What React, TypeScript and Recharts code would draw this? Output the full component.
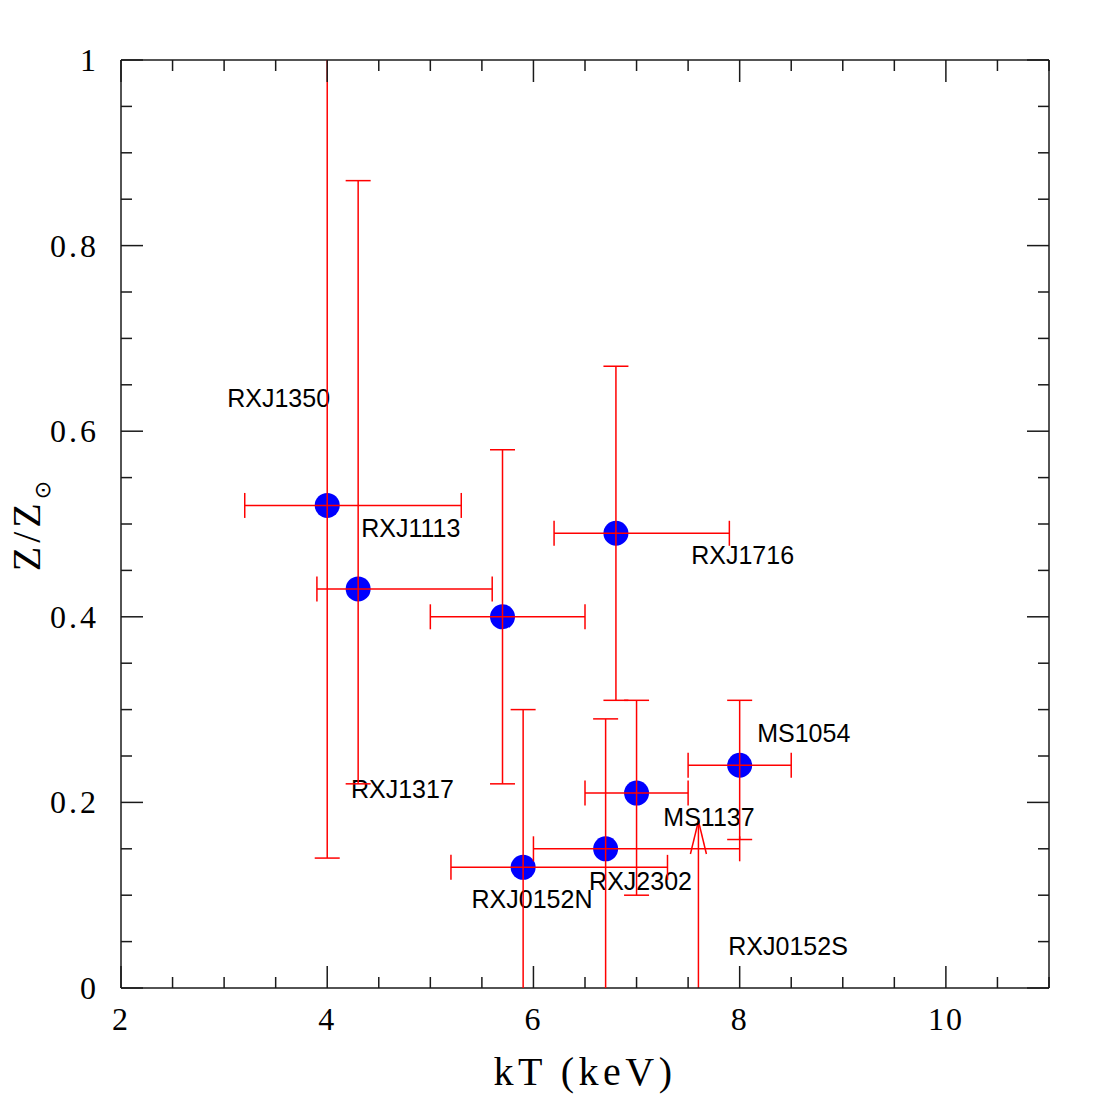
import React from 'react';
import * as R from 'recharts';
import { ScatterChart, Scatter, XAxis, YAxis, ErrorBar, Label, ReferenceLine } from 'recharts';

// cluster measurements: temperature (keV) and metallicity (solar units)
const clusters = ['RXJ1350', 'RXJ1317', 'RXJ1113', 'RXJ1716', 'MS1054', 'MS1137', 'RXJ2302', 'RXJ0152N'];
const kT = [4.0, 4.3, 5.7, 6.8, 8.0, 7.0, 6.7, 5.9];
const kTLow = [3.2, 3.9, 5.0, 6.2, 7.5, 6.5, 6.0, 5.2];
const kTHigh = [5.3, 5.6, 6.5, 7.9, 8.5, 7.5, 8.0, 7.3];
const Z = [0.52, 0.43, 0.4, 0.49, 0.24, 0.21, 0.15, 0.13];
const ZLow = [0.14, 0.22, 0.22, 0.31, 0.16, 0.1, -0.05, -0.05];
const ZHigh = [1.05, 0.87, 0.58, 0.67, 0.31, 0.31, 0.29, 0.3];

// upper limit (no detection)
const ulNames = ['RXJ0152S'];
const ulKT = [7.6];
const ulZ = [0.18];

// where the names are written, in data coordinates (left end of baseline)
const labelNames = ['RXJ1350', 'RXJ1113', 'RXJ1716', 'RXJ1317', 'MS1054', 'MS1137', 'RXJ2302', 'RXJ0152N', 'RXJ0152S'];
const labelKT = [3.03, 4.33, 7.53, 4.23, 8.17, 7.26, 6.54, 5.4, 7.89];
const labelZ = [0.626, 0.486, 0.457, 0.205, 0.265, 0.175, 0.106, 0.086, 0.036];

const xTicks = [2, 2.5, 3, 3.5, 4, 4.5, 5, 5.5, 6, 6.5, 7, 7.5, 8, 8.5, 9, 9.5, 10, 10.5, 11];
const xLabels = [2, 4, 6, 8, 10];
const yTicks = [0, 0.05, 0.1, 0.15, 0.2, 0.25, 0.3, 0.35, 0.4, 0.45, 0.5, 0.55, 0.6, 0.65, 0.7, 0.75, 0.8, 0.85, 0.9, 0.95, 1];
const yLabels = [0, 0.2, 0.4, 0.6, 0.8, 1];

const points = clusters.map((name, i) => ({
  name,
  kT: kT[i],
  Z: Z[i],
  kTErr: [kT[i] - kTLow[i], kTHigh[i] - kT[i]],
  ZErr: [Z[i] - ZLow[i], ZHigh[i] - Z[i]],
}));
const limits = ulNames.map((name, i) => ({ name, kT: ulKT[i], Z: ulZ[i] }));
const labels = labelNames.map((name, i) => ({ name, kT: labelKT[i], Z: labelZ[i] }));

const AXIS = '#1a1a1a';
const RED = '#ff0000';
const SERIF = '"Liberation Serif", "Times New Roman", serif';
const SANS = '"Liberation Sans", Arial, Helvetica, sans-serif';
const CLIP = 'plot-area-clip';

const isIn = (list: number[], v: number) => list.some(l => Math.abs(l - v) < 1e-9);

// clip rectangle for the error bars, taken from the chart's own plot area
const PlotClip = () => {
  const lib = R as any;
  const area = lib.usePlotArea ? lib.usePlotArea() : null;
  if (!area) return null;
  return (
    <defs>
      <clipPath id={CLIP}>
        <rect x={area.x} y={area.y} width={area.width} height={area.height} />
      </clipPath>
    </defs>
  );
};

const BottomTick = (props: any) => {
  const { x, y, payload } = props;
  const major = isIn(xLabels, payload.value);
  return (
    <g>
      <line x1={x} y1={y} x2={x} y2={y - (major ? 22 : 11)} stroke={AXIS} strokeWidth={1.5} />
      {major && (
        <text x={x} y={y + 42} textAnchor="middle" fontFamily={SERIF} fontSize={32} letterSpacing={2} fill="#000">
          {String(payload.value)}
        </text>
      )}
    </g>
  );
};

const TopTick = (props: any) => {
  const { x, y, payload } = props;
  const major = isIn(xLabels, payload.value);
  return <line x1={x} y1={y} x2={x} y2={y + (major ? 22 : 11)} stroke={AXIS} strokeWidth={1.5} />;
};

const LeftTick = (props: any) => {
  const { x, y, payload } = props;
  const major = isIn(yLabels, payload.value);
  return (
    <g>
      <line x1={x} y1={y} x2={x + (major ? 22 : 11)} y2={y} stroke={AXIS} strokeWidth={1.5} />
      {major && (
        <text x={x - 22} y={y + 11} textAnchor="end" fontFamily={SERIF} fontSize={32} letterSpacing={3} fill="#000">
          {String(payload.value)}
        </text>
      )}
    </g>
  );
};

const RightTick = (props: any) => {
  const { x, y, payload } = props;
  const major = isIn(yLabels, payload.value);
  return <line x1={x} y1={y} x2={x - (major ? 22 : 11)} y2={y} stroke={AXIS} strokeWidth={1.5} />;
};

const Dot = (props: any) => <circle cx={props.cx} cy={props.cy} r={12.5} fill="#0000ff" />;
const Nothing = () => <g />;

const ArrowHead = (props: any) => (
  <g stroke={RED} strokeWidth={1.5} fill="none">
    <line x1={props.cx} y1={props.cy} x2={props.cx - 8} y2={props.cy + 33} />
    <line x1={props.cx} y1={props.cy} x2={props.cx + 8} y2={props.cy + 33} />
  </g>
);

const NameText = (props: any) => (
  <text x={props.cx} y={props.cy} fontFamily={SANS} fontSize={25} fill="#000">
    {props.payload.name}
  </text>
);

const XTitle = (props: any) => {
  const { x, y, width } = props.viewBox;
  return (
    <text x={x + width / 2} y={y + 97} textAnchor="middle" fontFamily={SERIF} fontSize={40} letterSpacing={4.5} fill="#000">
      kT (keV)
    </text>
  );
};

const YTitle = (props: any) => {
  const { y, height } = props.viewBox;
  const cx = 40;
  const cy = y + height / 2;
  return (
    <text x={cx} y={cy} transform={`rotate(-90, ${cx}, ${cy})`} textAnchor="middle" fontFamily={SERIF} fontSize={40} letterSpacing={4} fill="#000">
      Z/Z
      <tspan fontSize={22} dy={10} fontFamily={'"DejaVu Sans", sans-serif'}>⊙</tspan>
    </text>
  );
};

export default function App() {
  return (
    <div style={{ position: 'absolute', left: 0, top: 0, width: 1107, height: 1107, background: '#fff' }}>
      <style>{`.recharts-errorBars, .recharts-errorBar { clip-path: url(#${CLIP}); }`}</style>
      <ScatterChart width={1107} height={1107} margin={{ top: 59, right: 57, bottom: 0, left: 0 }}>
        <PlotClip />
        <XAxis
          type="number" dataKey="kT" domain={[2, 11]} allowDataOverflow ticks={xTicks} interval={0}
          height={119} tickSize={0} tickMargin={0} tickLine={false} tick={<BottomTick />}
          axisLine={{ stroke: AXIS, strokeWidth: 1.5 }}
        >
          <Label content={<XTitle />} />
        </XAxis>
        <XAxis
          xAxisId="top" orientation="top" type="number" dataKey="kT" domain={[2, 11]} allowDataOverflow ticks={xTicks} interval={0}
          height={1} tickSize={0} tickMargin={0} tickLine={false} tick={<TopTick />}
          axisLine={{ stroke: AXIS, strokeWidth: 1.5 }}
        />
        <YAxis
          type="number" dataKey="Z" domain={[0, 1]} allowDataOverflow ticks={yTicks} interval={0}
          width={121} tickSize={0} tickMargin={0} tickLine={false} tick={<LeftTick />}
          axisLine={{ stroke: AXIS, strokeWidth: 1.5 }}
        >
          <Label content={<YTitle />} />
        </YAxis>
        <YAxis
          yAxisId="right" orientation="right" type="number" dataKey="Z" domain={[0, 1]} allowDataOverflow ticks={yTicks} interval={0}
          width={1} tickSize={0} tickMargin={0} tickLine={false} tick={<RightTick />}
          axisLine={{ stroke: AXIS, strokeWidth: 1.5 }}
        />

        {/* invisible series so the mirrored frame axes get drawn */}
        <Scatter xAxisId="top" yAxisId="right" data={points} dataKey="Z" shape={<Nothing />} isAnimationActive={false} />

        <Scatter data={points} dataKey="Z" shape={<Dot />} isAnimationActive={false} />
        <Scatter data={points} dataKey="Z" shape={<Nothing />} isAnimationActive={false}>
          <ErrorBar dataKey="kTErr" direction="x" width={12.5} stroke={RED} strokeWidth={1.5} zIndex={700} clipPath={`url(#${CLIP})`} isAnimationActive={false} />
          <ErrorBar dataKey="ZErr" direction="y" width={12.5} stroke={RED} strokeWidth={1.5} zIndex={700} clipPath={`url(#${CLIP})`} isAnimationActive={false} />
        </Scatter>

        {limits.map(l => (
          <ReferenceLine key={l.name} segment={[{ x: l.kT, y: 0 }, { x: l.kT, y: l.Z }]} stroke={RED} strokeWidth={1.5} />
        ))}
        <Scatter data={limits} dataKey="Z" shape={<ArrowHead />} isAnimationActive={false} />

        <Scatter data={labels} dataKey="Z" shape={<NameText />} isAnimationActive={false} />
      </ScatterChart>
    </div>
  );
}
